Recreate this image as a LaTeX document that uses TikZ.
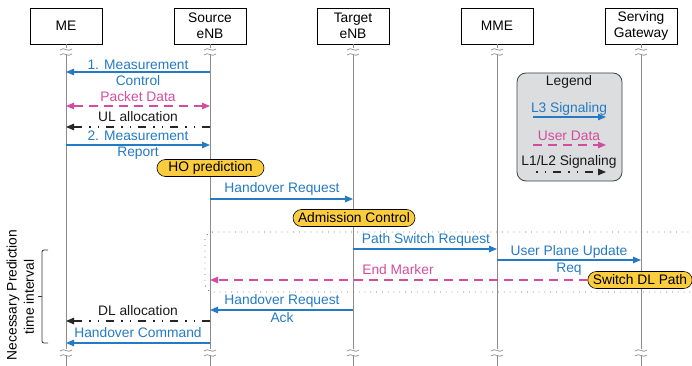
\documentclass[tikz,border=0pt]{standalone}
\usepackage{fontspec}
\setmainfont{Liberation Sans}
\usetikzlibrary{arrows.meta}
\definecolor{msgblue}{RGB}{36,122,196}
\definecolor{msgpink}{RGB}{212,76,160}
\definecolor{procyellow}{RGB}{250,204,62}
\definecolor{lifegray}{RGB}{140,140,140}
\definecolor{legendgray}{RGB}{220,221,222}
\newcommand\lifebreak[2]{%
  \fill[white] (#1-6,#2-3) rectangle (#1+6,#2+4);
  \draw[lifegray,line width=0.7pt] (#1-6,#2-1) .. controls (#1-2,#2-5) and (#1+2,#2+2) .. (#1+6,#2-2);
  \draw[lifegray,line width=0.7pt] (#1-6,#2+4) .. controls (#1-2,#2) and (#1+2,#2+7) .. (#1+6,#2+3);
}
\begin{document}
\begin{tikzpicture}[x=1pt,y=-1pt,
  font=\fontsize{13.8}{16}\selectfont,
  header/.style={draw=black, fill=white, line width=0.6pt, minimum width=72pt, minimum height=36pt, align=center, inner sep=0pt},
  lifeline/.style={draw=lifegray, line width=0.9pt},
  tip/.style={-{Triangle[length=8pt,width=6.5pt]}},
  l3/.style={draw=msgblue, line width=1.2pt, tip},
  ud/.style={draw=msgpink, line width=1.2pt, dash pattern=on 9pt off 6pt, tip},
  l12/.style={draw=black!85, line width=1.2pt, dash pattern=on 8pt off 7pt on 1.5pt off 7pt on 1.5pt off 7pt, tip},
  bl/.style={text=msgblue, inner sep=0pt},
  pk/.style={text=msgpink, inner sep=0pt},
  bk/.style={text=black!90, inner sep=0pt},
  proc/.style={draw=black, fill=procyellow, line width=0.6pt, rounded corners=8.5pt, minimum height=17pt, inner xsep=5pt, inner ysep=0pt},
]
\useasboundingbox (0,0) rectangle (692,366);
% headers
\node[header] (me)  at (66,26)  {ME};
\node[header] (src) at (210,26) {Source\\eNB};
\node[header] (tgt) at (353,26) {Target\\eNB};
\node[header] (mme) at (497,26) {MME};
\node[header] (sgw) at (641,26) {Serving\\Gateway};
\coordinate (bot) at (0,366);
\foreach \n in {me,src,tgt,mme,sgw} {
  \draw[lifeline] (\n.south) -- (\n.south |- bot);
}
\foreach \xx in {66,210,353,497,641} {
  \lifebreak{\xx}{51}
  \lifebreak{\xx}{352}
}
% legend
\node[draw=black!75, fill=legendgray, line width=0.8pt, rounded corners=9pt, minimum width=105pt, minimum height=108pt, inner sep=0pt] (legend) at (569.5,127) {};
\node[bk] (legt) at (569,82) {Legend};
\node[bl] (lg1) at (569,109) {L3 Signaling};
\coordinate (lg1a) at (533,117); \coordinate (lg1b) at (606,117);
\draw[l3] (lg1a) -- (lg1b);
\node[pk] (lg2) at (569,136) {User Data};
\coordinate (lg2a) at (533,145); \coordinate (lg2b) at (606,145);
\draw[ud] (lg2a) -- (lg2b);
\node[bk] (lg3) at (569,162) {L1/L2 Signaling};
\coordinate (lg3a) at (536,172); \coordinate (lg3b) at (606,172);
\draw[l12, dash pattern=on 1.5pt off 7pt on 1.5pt off 7pt on 8pt off 7pt] (lg3a) -- (lg3b);
% dotted region
\draw[black!60, line width=0.8pt, dash pattern=on 0.8pt off 5pt, rounded corners=8pt] (700,232) -- (205,232) -- (205,292) -- (700,292);
% brace
\draw[black!80, line width=0.8pt, rounded corners=2pt] (48,250) -- (42,250) -- (42,343) -- (48,343);
\draw[black!80, line width=0.8pt] (42,296) -- (38,296);
\node[rotate=90, inner sep=0pt] (nptext) at (13,295) {Necessary Prediction};
\node[rotate=90, inner sep=0pt] (tiv) at (29,297) {time interval};
% message rows
\coordinate (r1) at (0,72);
\coordinate (r2) at (0,106);
\coordinate (r3) at (0,127);
\coordinate (r4) at (0,145);
\coordinate (r6) at (0,199);
\coordinate (r8) at (0,249);
\coordinate (r9) at (0,260);
\coordinate (r10) at (0,280);
\coordinate (r11) at (0,310);
\coordinate (r12) at (0,321);
\coordinate (r13) at (0,343);
% 1
\draw[l3] (src |- r1) -- (me |- r1);
\node[bl] at (138,65) {1. Measurement};
\node[bl] at (138,81) {Control};
% packet data
\draw[ud, {Triangle[length=8pt,width=6.5pt]}-{Triangle[length=8pt,width=6.5pt]}] (me |- r2) -- (src |- r2);
\node[pk] at (138,97) {Packet Data};
% UL allocation
\draw[l12] (src |- r3) -- (me |- r3);
\node[bk] at (138,117) {UL allocation};
% 2
\draw[l3] (me |- r4) -- (src |- r4);
\node[bl] at (138,136) {2. Measurement};
\node[bl] at (138,153) {Report};
\node[proc, minimum width=107pt] (hop) at (210.5,168) {HO prediction};
% handover request
\draw[l3] (src |- r6) -- (tgt |- r6);
\node[bl] at (282,189) {Handover Request};
\node[proc] (adm) at (354,218) {Admission Control};
% path switch
\draw[l3] (tgt |- r8) -- (mme |- r8);
\node[bl] at (426,240) {Path Switch Request};
% user plane update
\draw[l3] (mme |- r9) -- (sgw |- r9);
\node[bl] at (569,252) {User Plane Update};
\node[bl] at (569,269) {Req};
% switch DL path and end marker
\node[proc] (sdl) at (640,280) {Switch DL Path};
\draw[ud] (sdl.west) -- (src |- r10);
\node[pk] at (398,270) {End Marker};
% handover request ack
\draw[l3] (tgt |- r11) -- (src |- r11);
\node[bl] at (282,301) {Handover Request};
\node[bl] at (282,318) {Ack};
% DL allocation
\draw[l12] (src |- r12) -- (me |- r12);
\node[bk] at (138,311) {DL allocation};
% handover command
\draw[l3] (src |- r13) -- (me |- r13);
\node[bl] at (138,333) {Handover Command};
\end{tikzpicture}
\end{document}
